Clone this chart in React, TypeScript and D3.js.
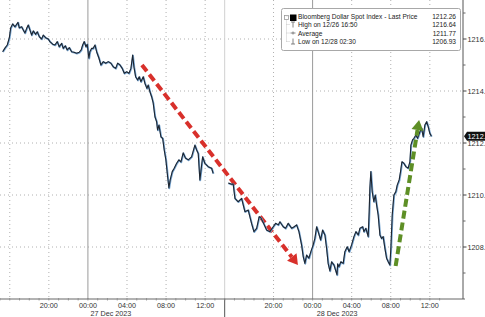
import React from "react";
import * as d3 from "d3";

// ---- data (hours relative to 27 Dec 2023 00:00, price) ----
const seg1Hours = [-8.73,-8.5,-8.26,-8.05,-7.91,-7.71,-7.47,-7.16,-7.03,-6.79,-6.62,-6.45,-6.27,-6.11,-5.94,-5.76,-5.6,-5.35,-5.19,-4.98,-4.74,-4.58,-4.33,-4.06,-3.89,-3.61,-3.38,-3.14,-2.94,-2.69,-2.53,-2.32,-2.12,-1.91,-1.67,-1.43,-1.16,-0.89,-0.69,-0.54,-0.38,-0.2,-0.07,0.1,0.2,0.38,0.54,0.72,0.89,1.13,1.33,1.57,1.81,2.08,2.35,2.59,2.84,3.04,3.28,3.51,3.72,3.96,4.2,4.4,4.58,4.71,4.88,5.09,5.25,5.42,5.66,5.83,6.04,6.17,6.35,6.52,6.68,6.86,7.03,7.13,7.27,7.47,7.65,7.81,7.98,8.16,8.29,8.42,8.63,8.83,9.08,9.31,9.52,9.75,9.98,10.27,10.61,10.95,11.13,11.29,11.46,11.74,11.97,12.31,12.66,12.82];
const seg1Values = [1215.51,1215.65,1215.77,1216.04,1216.42,1216.58,1216.47,1216.64,1216.43,1216.47,1216.35,1216.23,1216.41,1216.54,1216.35,1216.15,1216.31,1216.18,1216.28,1216.09,1216.0,1216.15,1216.05,1216.0,1215.9,1215.8,1215.77,1215.9,1215.7,1215.83,1215.64,1215.74,1215.58,1215.67,1215.51,1215.49,1215.45,1215.49,1215.58,1215.77,1215.9,1215.7,1215.8,1215.26,1215.51,1215.64,1215.64,1215.77,1215.51,1215.26,1215.0,1215.13,1215.07,1215.13,1215.07,1214.93,1214.87,1215.07,1215.0,1214.87,1214.68,1214.74,1214.68,1214.87,1215.38,1214.93,1214.55,1214.42,1214.55,1214.36,1214.55,1214.3,1214.1,1214.23,1213.97,1213.78,1213.54,1213.01,1212.82,1212.5,1212.69,1212.24,1212.18,1211.73,1211.35,1210.7,1210.27,1210.58,1210.9,1211.03,1211.22,1211.35,1211.27,1211.62,1211.42,1211.35,1211.47,1211.92,1211.73,1211.6,1210.58,1211.47,1211.22,1211.09,1211.03,1210.83];
const seg2Hours = [15.36,15.64,15.87,16.05,16.38,16.73,17.07,17.41,17.75,17.99,18.27,18.53,18.71,18.94,19.29,19.63,19.97,20.21,20.48,20.65,20.99,21.23,21.5,21.85,22.11,22.36,22.6,22.87,23.04,23.21,23.38,23.62,23.82,24.06,24.23,24.41,24.57,24.82,25.02,25.26,25.43,25.59,25.77,25.94,26.18,26.5,26.56,26.69,26.89,27.13,27.3,27.54,27.74,27.99,28.23,28.43,28.67,28.84,29.12,29.25,29.45,29.69,29.79,29.86,29.96,30.1,30.27,30.41,30.55,30.71,30.89,31.06,31.22,31.4,31.57,31.74,31.91,32.01,32.15,32.32,32.52,32.66,32.86,33.0,33.14,33.34,33.55,33.78,33.96,34.06,34.23,34.37,34.57,34.74,34.98,35.15,35.32,35.49,35.67,35.83,36.0,36.16];
const seg2Values = [1210.46,1210.42,1210.42,1209.87,1209.74,1209.87,1209.36,1209.42,1208.91,1208.59,1208.72,1209.17,1209.12,1208.94,1208.65,1208.59,1208.78,1208.91,1208.85,1208.97,1208.78,1208.72,1208.91,1208.72,1208.78,1208.85,1208.59,1208.08,1207.63,1207.37,1207.69,1207.57,1207.82,1208.08,1208.33,1208.78,1208.59,1208.27,1208.65,1208.46,1207.95,1207.37,1207.08,1207.43,1207.31,1206.93,1207.35,1207.24,1207.43,1207.37,1207.82,1208.01,1207.82,1208.08,1208.4,1208.59,1208.46,1208.72,1208.78,1208.59,1208.72,1208.4,1209.36,1210.26,1210.9,1210.13,1209.74,1210.0,1209.62,1209.23,1208.46,1208.33,1208.4,1207.95,1207.57,1207.43,1207.31,1207.95,1209.23,1210.0,1210.13,1210.38,1210.58,1210.9,1211.28,1211.22,1211.09,1211.03,1211.28,1211.92,1212.12,1212.18,1212.31,1212.18,1212.43,1212.57,1212.24,1212.69,1212.82,1212.63,1212.37,1212.26];

const yTicks = [1208, 1210, 1212, 1214, 1216];
const yMinorTicks = [1207, 1209, 1211, 1213, 1215, 1217];
const xTickHours = [-4, 0, 4, 8, 12, 20, 24, 28, 32, 36];
const xTickLabels = ["20:00", "00:00", "04:00", "08:00", "12:00", "20:00", "00:00", "04:00", "08:00", "12:00"];
const dottedGridHours = [-8, -4, 4, 8, 12, 20, 28, 32, 36];
const midnightHours = [0, 24];
const dateLabels = ["27 Dec 2023", "28 Dec 2023"];
const dateLabelHours = [2.35, 26.5];
const sessionBreak = [14, 15];

const legendLabels = ["Bloomberg Dollar Spot Index - Last Price", "High on 12/26 16:50", "Average", "Low on 12/28 02:30"];
const legendValues = ["1212.26", "1216.64", "1211.77", "1206.93"];
const lastPrice = 1212.26;

// arrows: [startHour, startValue, endHour, endValue]
const redArrow = [5.53, 1215.0, 22.5, 1207.31];
const greenArrow = [32.5, 1207.27, 34.9, 1212.88];

const W = 485, H = 317;
const FONT = "Liberation Sans, Arial, sans-serif";

function compress(h: number) {
  if (h <= sessionBreak[0]) return h;
  if (h >= sessionBreak[1]) return h - (sessionBreak[1] - sessionBreak[0]);
  return sessionBreak[0];
}

export default function App() {
  const axisX = 463;
  const axisY = 299;
  const xs = d3.scaleLinear().domain([-9, 38.6]).range([0, 465]);
  const x = (h: number) => xs(compress(h));
  const y = d3.scaleLinear().domain([1206, 1217.5]).range([axisY, 0]);

  const line = d3.line<[number, number]>().x(d => x(d[0])).y(d => y(d[1]));
  const seg1 = seg1Hours.map((h, i) => [h, seg1Values[i]] as [number, number]);
  const seg2 = seg2Hours.map((h, i) => [h, seg2Values[i]] as [number, number]);

  const hourTicks = d3.range(-9, 38, 1).filter(h => h < sessionBreak[0] || h >= sessionBreak[1]);

  const arrow = (a: number[], color: string, key: string) => {
    const x1 = x(a[0]), y1 = y(a[1]), x2 = x(a[2]), y2 = y(a[3]);
    const ang = Math.atan2(y2 - y1, x2 - x1);
    const headL = 10, headW = 6;
    const bx = x2 - headL * Math.cos(ang), by = y2 - headL * Math.sin(ang);
    const px = -Math.sin(ang) * headW, py = Math.cos(ang) * headW;
    return (
      <g key={key}>
        <line x1={x1} y1={y1} x2={bx} y2={by} stroke={color} strokeWidth={4} strokeDasharray="8,4" />
        <path d={`M${x2},${y2}L${bx + px},${by + py}L${bx - px},${by - py}Z`} fill={color} />
      </g>
    );
  };

  const legendRowY = [18.5, 27, 35.5, 44];
  const lfs = 6.6;

  return (
    <div style={{ position: "fixed", left: 0, top: 0, width: W, height: H, background: "#fff" }}>
      <svg width={W} height={H} style={{ display: "block" }} fontFamily={FONT}>
        <rect x={0} y={0} width={W} height={H} fill="#fff" />
        {/* horizontal grid */}
        {yTicks.map(v => (
          <line key={"hg" + v} x1={0} x2={axisX} y1={y(v)} y2={y(v)} stroke="#b0b0b0" strokeWidth={1} strokeDasharray="1,3" />
        ))}
        {/* vertical dotted grid */}
        {dottedGridHours.map(h => (
          <line key={"vg" + h} x1={x(h)} x2={x(h)} y1={0} y2={axisY} stroke="#b0b0b0" strokeWidth={1} strokeDasharray="1,3" />
        ))}
        {midnightHours.map(h => (
          <line key={"mg" + h} x1={x(h)} x2={x(h)} y1={0} y2={axisY} stroke="#9a9a9a" strokeWidth={1} />
        ))}
        <line x1={x(sessionBreak[0])} x2={x(sessionBreak[0])} y1={0} y2={axisY} stroke="#d0d0d0" strokeWidth={1} />
        <line x1={x(sessionBreak[0])} x2={x(sessionBreak[0])} y1={axisY} y2={H} stroke="#555" strokeWidth={1} />

        {/* arrows under line */}
        {arrow(redArrow, "#d8302b", "red")}

        {/* price line */}
        {[seg1, seg2].map((s, i) => (
          <g key={"s" + i}>
            <path d={line(s) || ""} fill="none" stroke="#7aa8d4" strokeWidth={1.8} strokeLinejoin="round" transform="translate(0.4,0.4)" />
            <path d={line(s) || ""} fill="none" stroke="#1d2530" strokeWidth={1.1} strokeLinejoin="round" />
          </g>
        ))}

        {arrow(greenArrow, "#5e8f26", "green")}

        {/* x axis */}
        <line x1={0} x2={465} y1={axisY} y2={axisY} stroke="#666" strokeWidth={1} />
        {hourTicks.map(h => (
          <line key={"ht" + h} x1={x(h)} x2={x(h)} y1={axisY - 1} y2={axisY + 1.5} stroke="#888" strokeWidth={0.8} />
        ))}
        {xTickHours.map((h, i) => (
          <text key={"xl" + i} x={x(h)} y={308} fontSize={7.2} fill="#333" textAnchor="middle">{xTickLabels[i]}</text>
        ))}
        {dateLabels.map((d, i) => (
          <text key={"dl" + i} x={x(dateLabelHours[i])} y={316} fontSize={7.2} fill="#333" textAnchor="middle">{d}</text>
        ))}

        {/* y axis */}
        <line x1={axisX} x2={axisX} y1={0} y2={axisY} stroke="#555" strokeWidth={1} />
        {yMinorTicks.map(v => (
          <line key={"ym" + v} x1={axisX} x2={axisX + 2.5} y1={y(v)} y2={y(v)} stroke="#666" strokeWidth={1} />
        ))}
        {yTicks.map(v => (
          <g key={"yt" + v}>
            <line x1={axisX} x2={axisX + 3.5} y1={y(v)} y2={y(v)} stroke="#444" strokeWidth={1} />
            <text x={axisX + 4.5} y={y(v) + 2.5} fontSize={7.3} fill="#333">{d3.format(".1f")(v)}</text>
          </g>
        ))}
        {/* last price tag */}
        <g>
          <path d={`M${axisX + 1},${y(lastPrice)} L${axisX + 4},${y(lastPrice) - 4.5} H${W} V${y(lastPrice) + 4.5} H${axisX + 4} Z`} fill="#111" />
          <text x={axisX + 4.5} y={y(lastPrice) + 2.6} fontSize={7.3} fill="#fff">{d3.format(".2f")(lastPrice)}</text>
        </g>

        {/* legend */}
        <g>
          <rect x={281.5} y={8.5} width={179} height={42} rx={2} fill="#fff" stroke="#a8a8a8" strokeWidth={1} />
          <line x1={286.5} x2={286.5} y1={20.5} y2={legendRowY[3] - 2} stroke="#bbb" strokeWidth={0.8} strokeDasharray="1,1" />
          <rect x={284.5} y={15.5} width={4} height={4} fill="#fff" stroke="#999" strokeWidth={0.8} />
          <rect x={290} y={14.5} width={6.5} height={6.5} fill="#000" />
          <line x1={291} x2={295} y1={legendRowY[1] - 5} y2={legendRowY[1] - 5} stroke="#666" strokeWidth={0.8} />
          <line x1={293} x2={293} y1={legendRowY[1] - 5} y2={legendRowY[1] + 0.5} stroke="#666" strokeWidth={0.8} />
          <line x1={290.5} x2={295.5} y1={legendRowY[2] - 2.5} y2={legendRowY[2] - 2.5} stroke="#666" strokeWidth={0.8} />
          <line x1={293} x2={293} y1={legendRowY[2] - 4} y2={legendRowY[2] - 1} stroke="#666" strokeWidth={0.8} />
          <line x1={293} x2={293} y1={legendRowY[3] - 5.5} y2={legendRowY[3]} stroke="#666" strokeWidth={0.8} />
          <line x1={291} x2={295} y1={legendRowY[3]} y2={legendRowY[3]} stroke="#666" strokeWidth={0.8} />
          {legendLabels.map((l, i) => (
            <g key={"lg" + i}>
              <line x1={286.5} x2={290} y1={legendRowY[i] - 2.5} y2={legendRowY[i] - 2.5} stroke="#bbb" strokeWidth={0.8} strokeDasharray="1,1" />
              <text x={298} y={legendRowY[i]} fontSize={lfs} fill="#222">{l}</text>
              <text x={456} y={legendRowY[i]} fontSize={lfs} fill="#222" textAnchor="end">{legendValues[i]}</text>
            </g>
          ))}
        </g>
      </svg>
    </div>
  );
}
